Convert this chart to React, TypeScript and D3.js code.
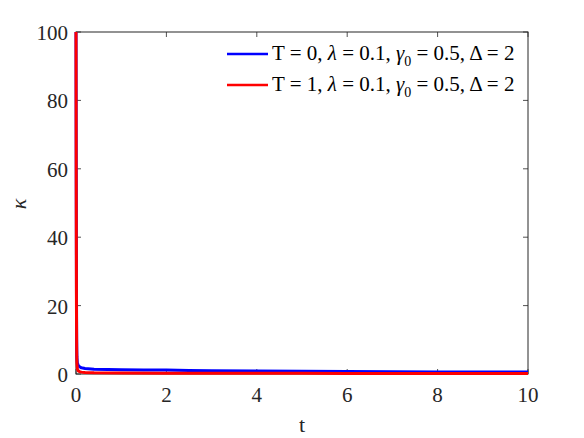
import React from "react";
import * as d3 from "d3";

const tBlue = [0, 0.005, 0.01, 0.015, 0.02, 0.03, 0.05, 0.08, 0.12, 0.2, 0.4, 0.7, 1, 1.5, 2, 2.5, 3, 4, 5, 6, 7, 8, 9, 10];
const kBlue = [100, 60, 25, 10, 5, 3.2, 2.6, 2.1, 1.8, 1.6, 1.4, 1.3, 1.25, 1.2, 1.15, 1.05, 0.95, 0.85, 0.8, 0.7, 0.65, 0.6, 0.55, 0.55];
const tRed = [0, 0.005, 0.01, 0.015, 0.02, 0.03, 0.05, 0.08, 0.12, 0.2, 0.4, 1, 2, 3, 4, 5, 6, 7, 8, 9, 10];
const kRed = [100, 55, 20, 7, 3, 1.5, 0.9, 0.7, 0.55, 0.45, 0.35, 0.3, 0.25, 0.22, 0.2, 0.2, 0.18, 0.17, 0.16, 0.15, 0.15];
const xTicks = [0, 2, 4, 6, 8, 10];
const yTicks = [0, 20, 40, 60, 80, 100];
const legendLabels = ["T = 0", "T = 1"];
const seriesColors = ["#0000ff", "#ff0000"];

const W = 584, H = 438;
const L = 76, R = 528, T = 32, B = 374;
const font = "'Liberation Serif', 'Times New Roman', serif";
const axisColor = "#262626";

export default function App() {
  const x = d3.scaleLinear().domain([0, 10]).range([L, R]);
  const y = d3.scaleLinear().domain([0, 100]).range([B, T]);
  const line = d3.line<[number, number]>().x(d => x(d[0])).y(d => y(d[1]));
  const blue = tBlue.map((t, i) => [t, kBlue[i]] as [number, number]);
  const red = tRed.map((t, i) => [t, kRed[i]] as [number, number]);
  const tl = 5;
  return (
    <svg width={W} height={H} style={{ position: "absolute", left: 0, top: 0, background: "#fff" }}>
      <rect x={0} y={0} width={W} height={H} fill="#fff" />
      <defs>
        <clipPath id="clip">
          <rect x={L - 3} y={T - 3} width={R - L + 6} height={B - T + 6} />
        </clipPath>
      </defs>
      {xTicks.map(v => (
        <g key={"x" + v}>
          <line x1={x(v)} x2={x(v)} y1={B} y2={B - tl} stroke={axisColor} strokeWidth={0.8} />
          <line x1={x(v)} x2={x(v)} y1={T} y2={T + tl} stroke={axisColor} strokeWidth={0.8} />
          <text x={x(v)} y={B + 28} textAnchor="middle" fontFamily={font} fontSize={21} fill={axisColor}>{v}</text>
        </g>
      ))}
      {yTicks.map(v => (
        <g key={"y" + v}>
          <line x1={L} x2={L + tl} y1={y(v)} y2={y(v)} stroke={axisColor} strokeWidth={0.8} />
          <line x1={R} x2={R - tl} y1={y(v)} y2={y(v)} stroke={axisColor} strokeWidth={0.8} />
          <text x={L - 8} y={y(v) + 8} textAnchor="end" fontFamily={font} fontSize={21} fill={axisColor}>{v}</text>
        </g>
      ))}
      <rect x={L} y={T} width={R - L} height={B - T} fill="none" stroke={axisColor} strokeWidth={1} />
      <g clipPath="url(#clip)">
        <path d={line(blue) || ""} fill="none" stroke={seriesColors[0]} strokeWidth={3} strokeLinejoin="round" />
        <path d={line(red) || ""} fill="none" stroke={seriesColors[1]} strokeWidth={3} strokeLinejoin="round" />
      </g>
      {legendLabels.map((lab, i) => {
        const cy = 54 + i * 31;
        return (
          <g key={lab}>
            <line x1={227} x2={268} y1={cy} y2={cy} stroke={seriesColors[i]} strokeWidth={2.5} />
            <text x={272} y={cy + 6} fontFamily={font} fontSize={21} fill="#000">
              {lab + ", "}
              <tspan fontStyle="italic">λ</tspan>
              {" = 0.1, "}
              <tspan fontStyle="italic">γ</tspan>
              <tspan fontSize={14} dy={6}>0</tspan>
              <tspan dy={-6}>{" = 0.5, Δ = 2"}</tspan>
            </text>
          </g>
        );
      })}
      <text x={(L + R) / 2} y={432} textAnchor="middle" fontFamily={font} fontSize={22} fill={axisColor}>t</text>
      <text transform={`translate(26, 204) rotate(-90)`} textAnchor="middle" fontFamily={font} fontSize={22} fontStyle="italic" fill={axisColor}>κ</text>
    </svg>
  );
}
